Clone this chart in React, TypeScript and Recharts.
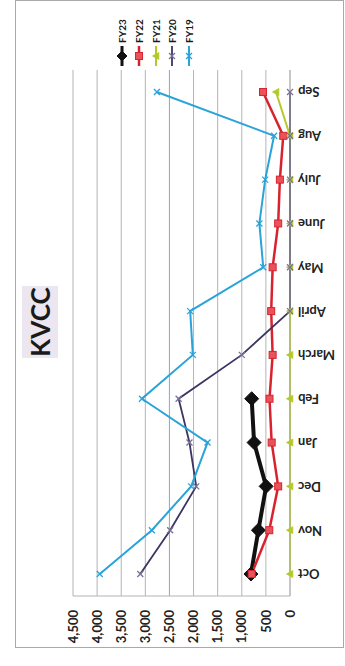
import { LineChart, Line, XAxis, YAxis, CartesianGrid, ReferenceLine } from 'recharts'

// monthly counts, fiscal year runs Oct..Sep
const months = ['Oct', 'Nov', 'Dec', 'Jan', 'Feb', 'March', 'April', 'May', 'June', 'July', 'Aug', 'Sep']
const fy23 = [810, 655, 495, 745, 795, null, null, null, null, null, null, null]
const fy22 = [795, 430, 245, 380, 425, 360, 390, 360, 245, 210, 140, 560]
const fy21 = [0, 0, 0, 0, 0, 0, 0, 0, 0, 0, 0, 290]
const fy20 = [3105, 2485, 1945, 2085, 2310, 1000, 0, 0, 0, 0, 0, 0]
const fy19 = [3945, 2865, 2050, 1710, 3070, 2015, 2070, 555, 635, 515, 330, 2760]
const valueTicks = [0, 500, 1000, 1500, 2000, 2500, 3000, 3500, 4000, 4500]

const rows = months.map((month, i) => ({
  month,
  FY23: fy23[i],
  FY22: fy22[i],
  FY21: fy21[i],
  FY20: fy20[i],
  FY19: fy19[i]
}))

type Marker = 'diamond' | 'square' | 'triangle' | 'cross'

const series: { key: string; color: string; width: number; marker: Marker; markerFill: string; size: number }[] = [
  { key: 'FY23', color: '#111111', width: 4, marker: 'diamond', markerFill: '#111111', size: 7 },
  { key: 'FY22', color: '#d8232f', width: 2.5, marker: 'square', markerFill: '#e8535b', size: 3.5 },
  { key: 'FY21', color: '#b3c927', width: 2, marker: 'triangle', markerFill: '#b3c927', size: 3.5 },
  { key: 'FY20', color: '#3b3563', width: 1.8, marker: 'cross', markerFill: '#7a7199', size: 3 },
  { key: 'FY19', color: '#2aa3d9', width: 2, marker: 'cross', markerFill: '#2aa3d9', size: 3 }
]

const drawMarker = (marker: Marker, cx: number, cy: number, r: number, fill: string, stroke: string) => {
  if (marker === 'diamond') {
    return <polygon points={`${cx},${cy - r} ${cx + r},${cy} ${cx},${cy + r} ${cx - r},${cy}`} fill={fill} stroke={stroke} strokeWidth={1} />
  }
  if (marker === 'square') {
    return <rect x={cx - r} y={cy - r} width={r * 2} height={r * 2} fill={fill} stroke={stroke} strokeWidth={1} />
  }
  if (marker === 'triangle') {
    return <polygon points={`${cx},${cy - r} ${cx + r},${cy + r * 0.8} ${cx - r},${cy + r * 0.8}`} fill={fill} stroke={stroke} strokeWidth={0.8} />
  }
  return (
    <g stroke={fill} strokeWidth={1.3}>
      <line x1={cx - r} y1={cy - r} x2={cx + r} y2={cy + r} />
      <line x1={cx - r} y1={cy + r} x2={cx + r} y2={cy - r} />
    </g>
  )
}

const makeDot = (s: (typeof series)[number]) => (props: any) => {
  const { cx, cy, index, value } = props
  if (cx == null || cy == null || value == null) return <g key={`${s.key}-${index}`} />
  return <g key={`${s.key}-${index}`}>{drawMarker(s.marker, cx, cy, s.size, s.markerFill, s.color)}</g>
}

const MonthTick = ({ x, y, payload }: any) => (
  <text
    x={x}
    y={y}
    dy="0.35em"
    transform={`rotate(-90 ${x} ${y})`}
    textAnchor="end"
    fontSize={13}
    fontWeight={700}
    fill="#222"
  >
    {payload.value}
  </text>
)

export default function App() {
  return (
    <div style={{ position: 'fixed', left: 0, top: 0, width: 345, height: 666, overflow: 'hidden', background: '#fff' }}>
      {/* chart laid out landscape, then turned a quarter to the left */}
      <div
        style={{
          position: 'absolute',
          left: 0,
          top: 0,
          width: 666,
          height: 345,
          transformOrigin: '0 0',
          transform: 'translateY(666px) rotate(-90deg)',
          fontFamily: 'Lato, "Open Sans", sans-serif',
          color: '#1a1a1a'
        }}
      >
        <div style={{ position: 'absolute', left: 18, top: 15, width: 646, height: 327, border: '1px solid #a9a9a9' }} />

        <div
          style={{
            position: 'absolute',
            left: 308,
            top: 22,
            width: 72,
            height: 36,
            background: '#ebe6f0',
            display: 'flex',
            alignItems: 'center',
            justifyContent: 'center',
            fontSize: 26,
            fontWeight: 700
          }}
        >
          KVCC
        </div>

        <div style={{ position: 'absolute', left: 0, top: 0 }}>
          <LineChart width={666} height={345} data={rows} margin={{ top: 73, right: 70, bottom: 10, left: 10 }}>
            <CartesianGrid vertical={false} stroke="#b4b4b4" />
            <ReferenceLine y={2500} stroke="#7fb2e6" strokeWidth={1} />
            <XAxis
              dataKey="month"
              height={45}
              padding={{ left: 22, right: 22 }}
              tickLine={false}
              tickSize={0}
              tickMargin={8}
              axisLine={{ stroke: '#b4b4b4' }}
              interval={0}
              tick={<MonthTick />}
            />
            <YAxis
              width={60}
              domain={[0, 4500]}
              ticks={valueTicks}
              tickLine={false}
              tickSize={0}
              tickMargin={14}
              axisLine={{ stroke: '#b4b4b4' }}
              tickFormatter={(v: number) => v.toLocaleString('en-US')}
              tick={{ fontSize: 13, fontWeight: 700, fill: '#222' }}
            />
            {series.map((s) => (
              <Line
                key={s.key}
                dataKey={s.key}
                type="linear"
                stroke={s.color}
                strokeWidth={s.width}
                dot={makeDot(s)}
                activeDot={false}
                connectNulls={false}
                isAnimationActive={false}
              />
            ))}
          </LineChart>
        </div>

        {/* legend */}
        <div style={{ position: 'absolute', left: 599, top: 114 }}>
          {series.map((s) => (
            <div key={s.key} style={{ display: 'flex', alignItems: 'center', height: 16.7 }}>
              <svg width={22} height={16} style={{ display: 'block' }}>
                <line x1={1} y1={8} x2={21} y2={8} stroke={s.color} strokeWidth={Math.min(s.width, 3)} />
                {drawMarker(s.marker, 11, 8, Math.min(s.size, 5), s.markerFill, s.color)}
              </svg>
              <span style={{ fontSize: 10, fontWeight: 700, marginLeft: 2, lineHeight: '16px' }}>{s.key}</span>
            </div>
          ))}
        </div>
      </div>
    </div>
  )
}
